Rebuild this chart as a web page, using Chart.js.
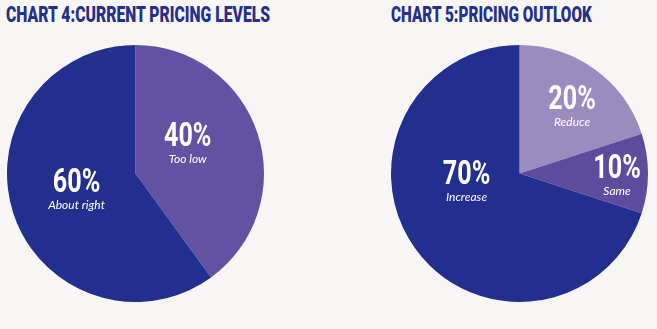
<!DOCTYPE html>
<html>
<head>
<meta charset="utf-8">
<script src="https://cdn.jsdelivr.net/npm/chart.js@4/dist/chart.umd.min.js"></script>
<style>
  html, body {
    margin: 0;
    padding: 0;
    background: #f7f6f5;
  }
  body {
    width: 657px;
    height: 329px;
    position: relative;
    overflow: hidden;
  }
  .title {
    position: absolute;
    top: 4px;
    font-family: Roboto, "DejaVu Sans", sans-serif;
    font-weight: 900;
    font-size: 22px;
    line-height: 22px;
    color: #252f8c;
    white-space: nowrap;
    transform-origin: 0 0;
  }
  .pie {
    position: absolute;
    top: 45px;
    width: 257px;
    height: 257px;
  }
</style>
</head>
<body>
  <div class="title" id="title4" style="left: 6px;" data-width="264">CHART 4:CURRENT PRICING LEVELS</div>
  <div class="title" id="title5" style="left: 391px;" data-width="201">CHART 5:PRICING OUTLOOK</div>
  <div class="pie" style="left: 6.5px;"><canvas id="pricingLevels"></canvas></div>
  <div class="pie" style="left: 390.5px;"><canvas id="pricingOutlook"></canvas></div>

<script>
  // Chart 4: current pricing levels
  const levelLabels = ["Too low", "About right"];
  const levelValues = [40, 60];

  // Chart 5: pricing outlook
  const outlookLabels = ["Reduce", "Same", "Increase"];
  const outlookValues = [20, 10, 70];

  // squeeze the titles into a condensed look
  document.querySelectorAll(".title").forEach((el) => {
    const target = parseFloat(el.dataset.width);
    el.style.transform = `scaleX(${target / el.offsetWidth})`;
  });

  // big percentage + italic caption inside each slice
  const sliceLabels = {
    id: "sliceLabels",
    afterDatasetsDraw(chart, args, opts) {
      const ctx = chart.ctx;
      const meta = chart.getDatasetMeta(0);
      const values = chart.data.datasets[0].data;
      meta.data.forEach((arc, i) => {
        const p = arc.getProps(["x", "y", "startAngle", "endAngle", "outerRadius"], true);
        const [nudge, frac] = opts.place[i];
        const mid = (p.startAngle + p.endAngle) / 2 + (nudge * Math.PI) / 180;
        const cx = p.x + Math.cos(mid) * p.outerRadius * frac;
        const cy = p.y + Math.sin(mid) * p.outerRadius * frac;

        ctx.save();
        ctx.fillStyle = "#ffffff";
        ctx.textAlign = "center";
        ctx.textBaseline = "alphabetic";

        ctx.save();
        ctx.translate(cx, cy);
        ctx.scale(0.74, 1);
        ctx.font = "bold 34px Roboto";
        ctx.fillText(values[i] + "%", 0, 0);
        ctx.restore();

        ctx.font = "italic 12px Lato";
        ctx.fillText(chart.data.labels[i], cx, cy + 17);
        ctx.restore();
      });
    },
  };

  function makePie(id, labels, values, colors, place) {
    return new Chart(document.getElementById(id), {
      type: "pie",
      data: {
        labels: labels,
        datasets: [
          {
            data: values,
            backgroundColor: colors,
            borderWidth: 0,
          },
        ],
      },
      options: {
        responsive: true,
        maintainAspectRatio: false,
        animation: false,
        layout: { padding: 0 },
        plugins: {
          legend: { display: false },
          tooltip: { enabled: false },
          sliceLabels: { place: place },
        },
      },
      plugins: [sliceLabels],
    });
  }

  makePie(
    "pricingLevels",
    levelLabels,
    levelValues,
    ["#6352a1", "#222f8e"],
    [[-10, 0.46], [1, 0.48]]
  );

  makePie(
    "pricingOutlook",
    outlookLabels,
    outlookValues,
    ["#9c8bbf", "#5d4b9e", "#222f8e"],
    [[3, 0.65], [2.6, 0.76], [25, 0.42]]
  );
</script>
</body>
</html>
